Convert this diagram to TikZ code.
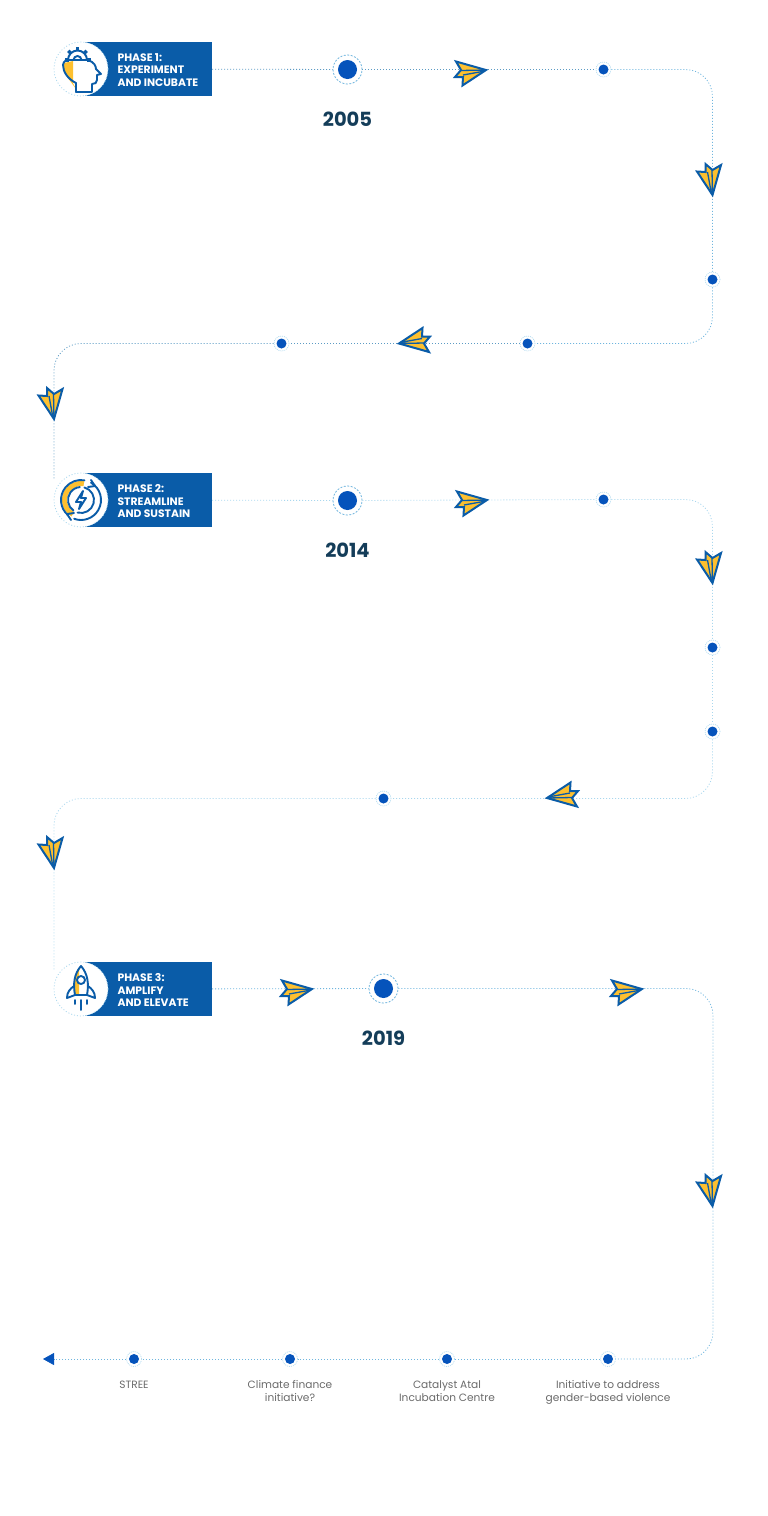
\documentclass[tikz,border=0pt]{standalone}
\usepackage{fontspec}
\setmainfont{Poppins}
\usetikzlibrary{arrows.meta,positioning}
\definecolor{badgeblue}{HTML}{0A5CA8}
\definecolor{dotblue}{HTML}{0553BB}
\definecolor{wingyellow}{HTML}{FDC02F}
\definecolor{yearblue}{HTML}{143D59}
\definecolor{captiongray}{HTML}{6A6A6A}
\definecolor{traildark}{HTML}{5C9BC4}
\definecolor{traillight}{HTML}{A9D7EE}
\definecolor{trailmid}{HTML}{6FB5DE}
\tikzstyle{trail}=[
	line width=0.8pt,
	dash pattern=on 1pt off 2pt,
	rounded corners=27pt
]
\tikzstyle{badge}=[
	rectangle,
	fill=badgeblue,
	minimum width=127pt,
	minimum height=54pt,
	inner sep=0pt
]
\tikzstyle{iconring}=[
	circle,
	fill=white,
	draw=traillight,
	line width=0.8pt,
	dash pattern=on 1pt off 2pt,
	minimum size=54pt,
	inner sep=0pt
]
\tikzstyle{phasetext}=[
	text=white,
	font=\fontsize{10.8}{12.8}\selectfont\bfseries,
	align=left,
	inner sep=0pt,
	yshift=-1pt
]
\tikzstyle{year}=[
	text=yearblue,
	font=\fontsize{19.5}{22}\selectfont\bfseries,
	inner sep=0pt
]
\tikzstyle{caption}=[
	text=captiongray,
	font=\fontsize{10.6}{13}\selectfont,
	align=center,
	inner sep=0pt
]
\tikzstyle{bigdot}=[
	circle,
	fill=white,
	draw=trailmid,
	line width=0.8pt,
	dash pattern=on 2pt off 1.5pt,
	minimum size=29pt,
	inner sep=0pt,
	path picture={\fill[dotblue] (path picture bounding box.center) circle (9.5pt);}
]
\tikzstyle{smalldot}=[
	circle,
	fill=white,
	draw=traillight,
	line width=0.6pt,
	dash pattern=on 1pt off 1pt,
	minimum size=15pt,
	inner sep=0pt,
	path picture={\fill[dotblue] (path picture bounding box.center) circle (5pt);}
]
\tikzstyle{iconline}=[
	draw=badgeblue,
	line width=1.9pt,
	line join=round,
	line cap=round
]
\tikzset{
	paperplane/.pic={
		\filldraw [fill=wingyellow, draw=badgeblue, line width=2pt, line join=miter]
			(0,0) -- (-30,-8.5) -- (-25,0) -- (-31,7) -- (-23,7) -- (-23.5,15.5) -- cycle;
		\draw [badgeblue, line width=1.3pt] (0,0) -- (-25,0.5) (-1,1) -- (-23,5);
	},
	headicon/.pic={
		\fill [wingyellow] (-17,-6) -- (-8,-8) -- (-8,14) -- (-5,20) -- (-13,9) -- (-17,2) -- cycle;
		\draw [iconline] (-5,23) -- (-5,14) .. controls (-13,10) and (-18,3) .. (-18,-4)
			.. controls (-18,-6) and (-17,-7) .. (-15,-9);
		\draw [iconline] (7,-9) .. controls (13,-7) and (15,-3) .. (15,0) -- (20,5) -- (16,6)
			-- (16,11) .. controls (16,14) and (14,15) .. (11,15) -- (11,23) -- (-5,23);
		\draw [iconline, fill=white] (-13,-9) arc (180:360:9.5) -- cycle;
		\foreach \a in {180,225,270,315,360}
			\draw [iconline, line width=3.4pt, line cap=butt] (-3.5,-9) ++(\a:9) -- ++(\a:4);
		\draw [iconline] (-7.5,-9) arc (180:360:4);
	},
	cycleicon/.pic={
		\fill [wingyellow] (120:19) arc (120:280:19) -- (280:14) arc (280:120:14) -- cycle;
		\draw [iconline] (-60:20) arc (-60:110:20) (130:20) arc (130:280:20);
		\draw [iconline] (-75:13) arc (-75:105:13) (125:13) arc (125:265:13);
		\draw [iconline] (10,-20) -- (14,-14) -- (7,-13);
		\draw [iconline] (-10,20) -- (-14,14) -- (-7,13);
		\draw [iconline] (2,-9) -- (-5,2) -- (0,2) -- (-2,9) -- (5,-2) -- (0,-2) -- cycle;
	},
	rocketicon/.pic={
		\fill [wingyellow] (0,-23) .. controls (-7,-15) and (-8,-5) .. (-6,6) -- (-2,6) -- (-2,-18) -- cycle;
		\draw [iconline] (0,-23) .. controls (-7,-15) and (-8,-5) .. (-6,6) -- (6,6)
			.. controls (8,-5) and (7,-15) .. (0,-23) -- cycle;
		\draw [iconline] (-7,-3) .. controls (-11,0) and (-14,3) .. (-14,9) -- (-6,6);
		\draw [iconline] (7,-3) .. controls (11,0) and (14,3) .. (14,9) -- (6,6);
		\draw [iconline, fill=white] (0,-9) circle (4pt);
		\draw [iconline] (-6,11) -- (-6,15) (0,11) -- (0,21) (6,11) -- (6,15);
	}
}

\begin{document}
\begin{tikzpicture}[x=1pt,y=-1pt]
\useasboundingbox (0,0) rectangle (768,1516);
% phase one
\node [badge] (phase1) at (148.5,69) {};
\node [iconring] (icon1) at (81,69) {};
\node [phasetext, right=9pt of icon1] (label1) {PHASE 1:\\EXPERIMENT\\AND INCUBATE};
\node [bigdot] (major1) at (347.5,69.5) {};
\node [year, below=27.5pt of major1] (year1) {2005};
\node [smalldot] (dot1a) at (603.5,69.5) {};
\node [smalldot] (dot1b) at (712.5,279.5) {};
\node [smalldot] (dot1c) at (527.5,343.5) {};
\node [smalldot] (dot1d) at (281.5,343.5) {};
\coordinate (entry2) at (54,480);
% phase two
\node [badge] (phase2) at (148.5,500) {};
\node [iconring] (icon2) at (81,500) {};
\node [phasetext, right=9pt of icon2] (label2) {PHASE 2:\\STREAMLINE\\AND SUSTAIN};
\node [bigdot] (major2) at (347.5,500.5) {};
\node [year, below=27.5pt of major2] (year2) {2014};
\node [smalldot] (dot2a) at (603.5,499.5) {};
\node [smalldot] (dot2b) at (712.5,647.5) {};
\node [smalldot] (dot2c) at (712.5,731.5) {};
\node [smalldot] (dot2d) at (383.5,798.5) {};
\coordinate (entry3) at (54,970);
% phase three
\node [badge] (phase3) at (148.5,989) {};
\node [iconring] (icon3) at (81,989) {};
\node [phasetext, right=9pt of icon3] (label3) {PHASE 3:\\AMPLIFY\\AND ELEVATE};
\node [bigdot] (major3) at (383.5,988.5) {};
\node [year, below=27.5pt of major3] (year3) {2019};
\coordinate (turn3) at (713,1200);
\node [smalldot] (dot3a) at (608,1359) {};
\node [smalldot] (dot3b) at (447,1359) {};
\node [smalldot] (dot3c) at (290,1359) {};
\node [smalldot] (dot3d) at (134,1359) {};
\coordinate (tail) at (43,1359);
\node [caption, below=13.5pt of dot3a, anchor=north] (cap3a) {Initiative to address\\gender-based violence};
\node [caption, below=13.5pt of dot3b, anchor=north] (cap3b) {Catalyst Atal\\Incubation Centre};
\node [caption, below=13.5pt of dot3c, anchor=north] (cap3c) {Climate finance\\initiative?};
\node [caption, below=13.5pt of dot3d, anchor=north] (cap3d) {STREE};
% trails
\draw [trail, traildark] (phase1) -- (major1);
\draw [trail, traildark] (major1) -- (dot1a);
\draw [trail, trailmid] (dot1a) -| (dot1b);
\draw [trail, trailmid] (dot1b) |- (dot1c);
\draw [trail, traildark] (dot1c) -- (dot1d);
\draw [trail, traildark] (dot1d) -| (entry2);
\draw [trail, traillight] (phase2) -- (major2);
\draw [trail, traillight] (major2) -- (dot2a);
\draw [trail, traillight] (dot2a) -| (dot2b);
\draw [trail, traillight] (dot2b) -- (dot2c);
\draw [trail, traillight] (dot2c) |- (dot2d);
\draw [trail, traillight] (dot2d) -| (entry3);
\draw [trail, trailmid] (phase3) -- (major3);
\draw [trail, trailmid] (major3) -| (turn3) |- (dot3a);
\draw [trail, trailmid] (dot3a) -- (dot3b);
\draw [trail, trailmid] (dot3b) -- (dot3c);
\draw [trail, trailmid] (dot3c) -- (dot3d);
\draw [trail, trailmid, -{Triangle[length=11pt,width=12pt,color=dotblue]}] (dot3d) -- (tail);
% planes
\pic at (486,70) {paperplane};
\pic [rotate=-90] at (712.5,195) {paperplane};
\pic [rotate=180] at (399,343.5) {paperplane};
\pic [rotate=-90] at (54,419) {paperplane};
\pic at (487,500) {paperplane};
\pic [rotate=-90] at (712.5,583) {paperplane};
\pic [rotate=180] at (547,798) {paperplane};
\pic [rotate=-90] at (54,868) {paperplane};
\pic at (312,989) {paperplane};
\pic at (642,989) {paperplane};
\pic [rotate=-90] at (712.5,1206) {paperplane};
% icons
\pic at (icon1) {headicon};
\pic at (icon2) {cycleicon};
\pic at (icon3) {rocketicon};
\end{tikzpicture}
\end{document}
